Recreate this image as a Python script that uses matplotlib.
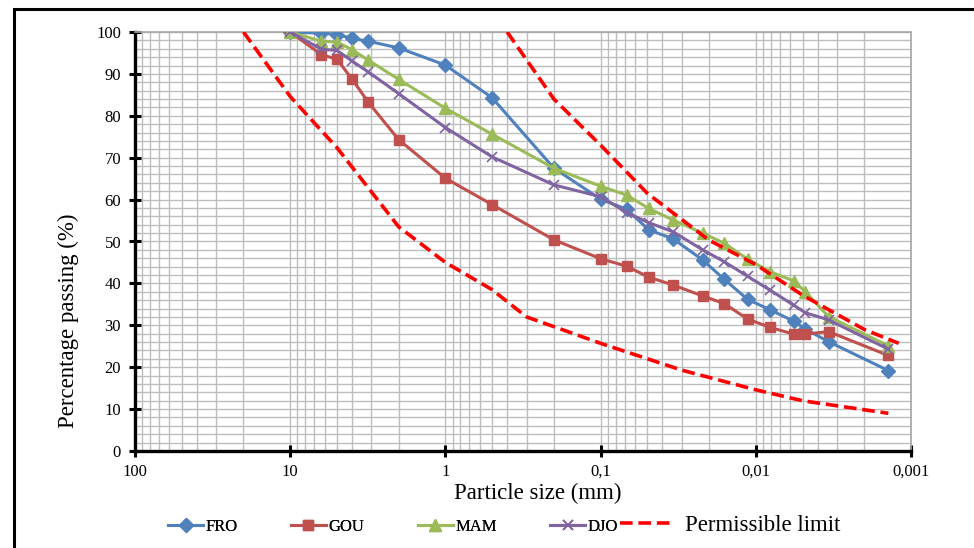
import numpy as np
import matplotlib
matplotlib.use("Agg")
import matplotlib.pyplot as plt
from matplotlib.patches import Rectangle
from matplotlib.ticker import FixedLocator, NullFormatter

plt.rcParams['font.family'] = ['Liberation Serif', 'DejaVu Serif']

# sieve + hydrometer sizes (mm)
sizes = [10, 6.3, 5, 4, 3.15, 2, 1, 0.5, 0.2, 0.1, 0.068, 0.049, 0.034,
         0.022, 0.016, 0.0113, 0.0081, 0.0057, 0.0048, 0.0034, 0.0014]

fro = [100, 99.7, 99.4, 98.5, 97.8, 96.2, 92.1, 84.3, 67.5, 60.1, 57.7, 52.8,
       50.6, 45.6, 41.0, 36.2, 33.7, 31.0, 29.1, 26.1, 19.2]
gou = [100, 94.6, 93.5, 88.8, 83.3, 74.3, 65.1, 58.8, 50.4, 45.9, 44.1, 41.5,
       39.6, 37.0, 35.2, 31.5, 29.5, 27.9, 27.9, 28.5, 22.8]
mam = [100, 97.8, 97.6, 95.8, 93.3, 88.7, 81.8, 75.6, 67.5, 63.2, 61.1, 57.9,
       55.1, 52.0, 49.6, 45.8, 42.8, 40.6, 38.0, 32.1, 25.1]
djo = [100, 95.9, 95.6, 93.1, 90.5, 85.3, 77.2, 70.2, 63.5, 60.7, 56.9, 54.5,
       52.3, 48.0, 45.2, 41.7, 38.4, 34.8, 33.0, 31.3, 24.3]

# permissible limit envelope
upper_size = [0.4, 0.2, 0.1, 0.05, 0.02, 0.01, 0.005, 0.002, 0.0012]
upper_pct = [100, 84, 73, 61.5, 50.3, 44.5, 37.2, 29, 25.7]
lower_size = [20, 10, 5, 2, 1, 0.5, 0.3, 0.1, 0.03, 0.01, 0.005, 0.0014]
lower_pct = [100, 84.6, 72.4, 53.5, 45, 38.5, 32, 25.7, 19.3, 14.6, 12, 9]

xticks = [100, 10, 1, 0.1, 0.01, 0.001]
xtick_labels = ['100', '10', '1', '0,1', '0,01', '0,001']

W, H = 974, 548
fig = plt.figure(figsize=(W / 100, H / 100), dpi=100)
ax = fig.add_axes([135 / W, 1 - 451 / H, (911 - 135) / W, (451 - 32) / H])

# outer frame
fig.patches.append(Rectangle((14 / W, -0.1), 1.2, 1 - 9 / H + 0.1,
                             transform=fig.transFigure, fill=False,
                             edgecolor='black', lw=2.2, clip_on=False))

series = [
    ('FRO', fro, '#4F81BD', 'D', 7),
    ('GOU', gou, '#C0504D', 's', 7.5),
    ('MAM', mam, '#9BBB59', '^', 8),
    ('DJO', djo, '#8064A2', 'x', 7.5),
]
handles = []
for name, vals, col, mk, ms in series:
    h, = ax.plot(sizes, vals, color=col, lw=2.2, marker=mk, ms=ms,
                 mew=1.2 if mk == 'x' else 1, label=name, zorder=3)
    handles.append(h)

lim, = ax.plot(upper_size, upper_pct, color='#FF0000', lw=2.6,
               dashes=(3.5, 1.6), label='Permissible limit', zorder=4)
ax.plot(lower_size, lower_pct, color='#FF0000', lw=2.6, dashes=(3.5, 1.6),
        zorder=4)

ax.set_xscale('log')
ax.set_xlim(100, 0.001)
ax.set_ylim(0, 100)

ax.set_xticks(xticks)
ax.set_xticklabels(xtick_labels)
minor = [m * 10.0 ** e for e in range(-3, 2) for m in range(2, 10)]
ax.xaxis.set_minor_locator(FixedLocator(minor))
ax.xaxis.set_minor_formatter(NullFormatter())
ax.set_yticks(np.arange(0, 101, 10))
ax.yaxis.set_minor_locator(FixedLocator(np.arange(0, 101, 2)))

ax.grid(True, which='both', color='#BDBDBD', lw=1.0, zorder=0)
ax.set_axisbelow(True)
ax.tick_params(which='major', direction='inout', length=8, width=2.2,
               labelsize=12, color='black')
ax.tick_params(axis='y', pad=6)
ax.tick_params(axis='x', pad=5)
ax.tick_params(which='minor', length=0)

for s in ['left', 'bottom']:
    ax.spines[s].set_linewidth(2.4)
    ax.spines[s].set_color('black')
for s in ['top', 'right']:
    ax.spines[s].set_linewidth(1.2)
    ax.spines[s].set_color('#A6A6A6')

fig.text(68 / W, 1 - 321 / H, 'Percentage passing (%)', rotation=90,
         ha='center', va='center', fontsize=16.5)
fig.text(538 / W, 1 - 493 / H, 'Particle size (mm)', ha='center',
         va='center', fontsize=16.5)

leg1 = fig.legend(handles=handles, loc='center left', ncol=4,
                  bbox_to_anchor=(168 / W, 1 - 527 / H), frameon=False,
                  fontsize=12, handlelength=2.1, handletextpad=0.15,
                  columnspacing=3.2, borderpad=0, borderaxespad=0)
leg2 = fig.legend(handles=[lim], loc='center left',
                  bbox_to_anchor=(620 / W, 1 - 525 / H), frameon=False,
                  fontsize=16.5, handlelength=2.4, handletextpad=0.45,
                  borderpad=0, borderaxespad=0)
fig.add_artist(leg1)

fig.savefig('out.png', dpi=100)
